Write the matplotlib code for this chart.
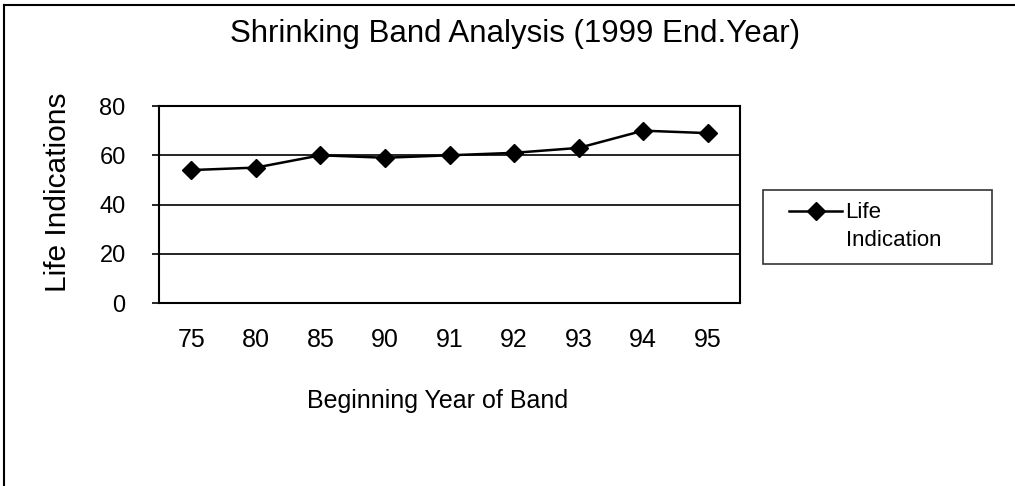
import numpy as np
import matplotlib
matplotlib.use('Agg')
import matplotlib.pyplot as plt
from matplotlib.lines import Line2D
from matplotlib.legend_handler import HandlerLine2D

plt.rcParams['font.family'] = ['Liberation Sans', 'DejaVu Sans']

# Chart data
years = ['75', '80', '85', '90', '91', '92', '93', '94', '95']
life_indication = [54, 55, 60, 59, 60, 61, 63, 70, 69]

LEG_FS = 16
LEG_LINESPACING = 1.45


# Legend handle raised to sit next to the first line of a two-line label,
# and indented a little from the left edge of the box
class TopLineHandler(HandlerLine2D):
    def create_artists(self, legend, orig_handle, xdescent, ydescent,
                       width, height, fontsize, trans):
        shift = LEG_LINESPACING * fontsize
        indent = 0.6 * fontsize
        return super().create_artists(legend, orig_handle, xdescent - indent,
                                      ydescent - shift, width - indent,
                                      height, fontsize, trans)


fig = plt.figure(figsize=(10.15, 4.86), dpi=100)
ax = fig.add_axes([0.1567, 0.3765, 0.5724, 0.4053])

x = np.arange(len(years))
line, = ax.plot(x, life_indication, color='black', linewidth=1.8,
                marker='D', markersize=9, label='Life\nIndication')

ax.set_xlim(-0.5, len(years) - 0.5)
ax.set_ylim(0, 80)
ax.set_yticks([0, 20, 40, 60, 80])
ax.set_xticks(x)
ax.set_xticklabels(years)

ax.yaxis.grid(True, color='black', linewidth=1.2)
ax.set_axisbelow(True)
for s in ax.spines.values():
    s.set_linewidth(1.5)
    s.set_color('black')

ax.tick_params(axis='y', direction='out', length=5, width=1.2, pad=19,
               labelsize=17)
ax.tick_params(axis='x', length=0, pad=18, labelsize=18)

ax.set_ylabel('Life Indications', fontsize=21.5)
ax.yaxis.set_label_coords(-0.15, 0.56)
ax.set_xlabel('Beginning Year of Band', fontsize=18)
ax.xaxis.set_label_coords(0.479, -0.435)

fig.text(0.507, 0.93, 'Shrinking Band Analysis (1999 End.Year)',
         ha='center', va='center', fontsize=22.5)

leg = fig.legend(handles=[line], loc='upper left',
                 bbox_to_anchor=(0.752, 0.451, 0.225, 0.158), mode='expand',
                 fontsize=LEG_FS, frameon=True, fancybox=False,
                 edgecolor='black', handlelength=3.0, handletextpad=0.15,
                 borderpad=0.55, borderaxespad=0,
                 handler_map={Line2D: TopLineHandler()})
leg.get_texts()[0].set_linespacing(LEG_LINESPACING)
leg.get_frame().set_linewidth(1.2)

# Outer chart frame (top and left edges only, as in the scan)
fig.add_artist(Line2D([0.004, 1.0], [0.99, 0.99], color='black',
                      linewidth=1.5, transform=fig.transFigure))
fig.add_artist(Line2D([0.004, 0.004], [0.0, 0.99], color='black',
                      linewidth=1.5, transform=fig.transFigure))

fig.savefig('out.png', dpi=100)
